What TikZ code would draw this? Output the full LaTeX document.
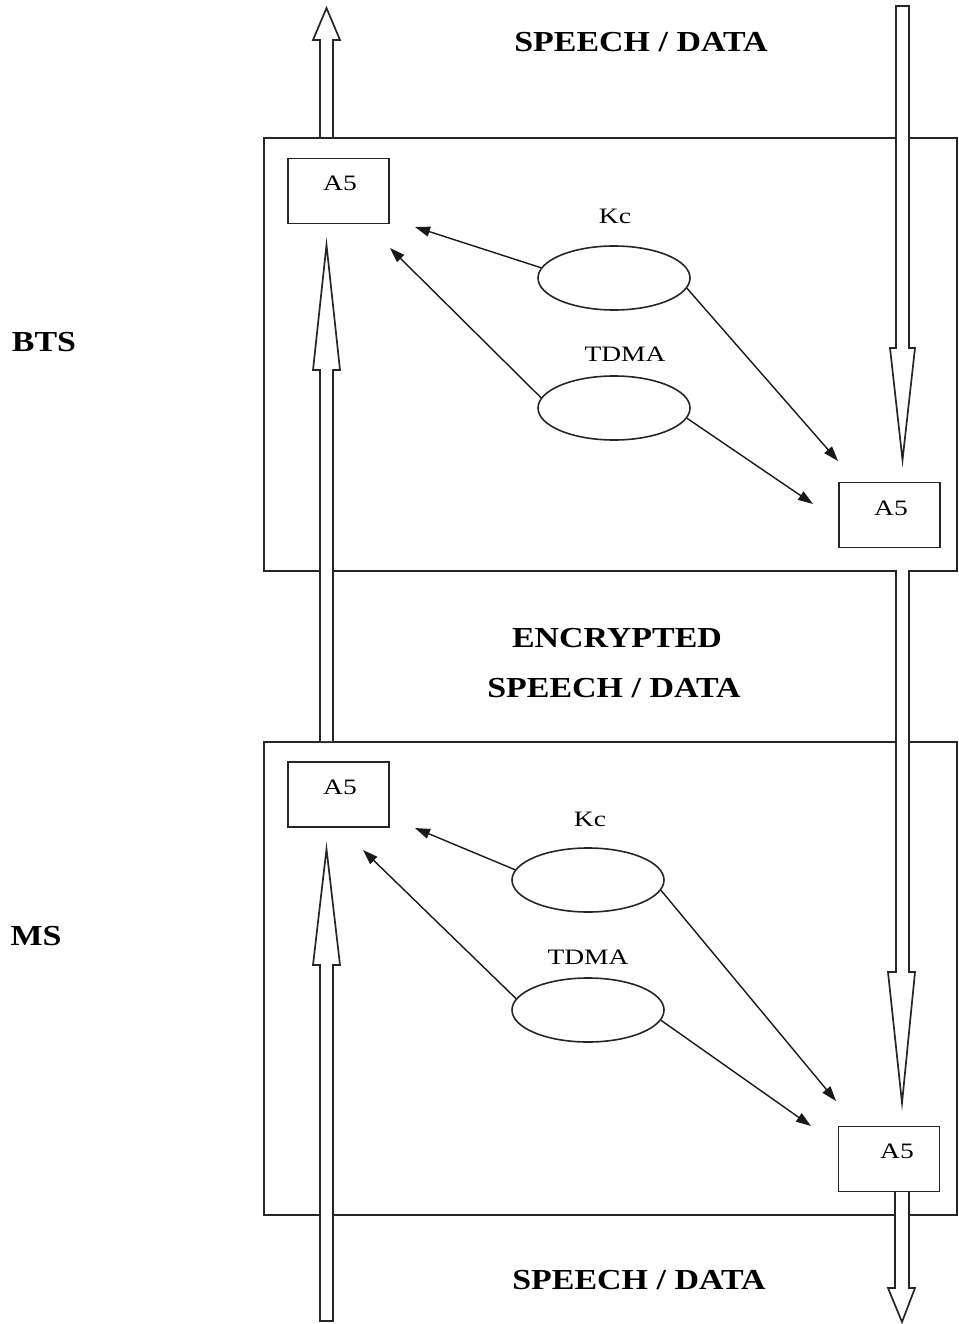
\documentclass[tikz,border=0pt]{standalone}
\usepackage{fontspec}
\setmainfont{Liberation Serif}
\newfontfamily\lblfont{Liberation Serif}[FakeStretch=1.25]
\newfontfamily\bigfont{Liberation Serif}[FakeStretch=1.17]
\usetikzlibrary{arrows.meta,shapes.geometric}
\tikzset{
  zone/.style={draw=black!85, line width=1.6pt},
  a5box/.style={draw=black!85, line width=1.7pt, rectangle, minimum width=101pt, minimum height=65pt, inner sep=0pt, fill=white},
  oval/.style={draw=black!85, line width=1.6pt, ellipse, minimum width=152pt, minimum height=64pt, inner sep=0pt},
  keyarrow/.style={draw=black!90, line width=1.4pt, -{Triangle[length=15pt,width=10pt]}},
  hollow/.style={draw=black!85, line width=1.7pt, line join=miter},
  hollowfill/.style={fill=white},
  biglbl/.style={font=\bigfont\fontsize{29}{34}\selectfont\bfseries, inner sep=0pt},
  lbl/.style={font=\lblfont\fontsize{22}{26}\selectfont, inner sep=0pt},
}
\begin{document}
\begin{tikzpicture}[x=1pt,y=-1pt]
\useasboundingbox (0,0) rectangle (958,1324);
% zones
\node[zone, rectangle, minimum width=693pt, minimum height=433pt, inner sep=0pt, anchor=north west] (bts) at (263,137) {};
\node[zone, rectangle, minimum width=693pt, minimum height=473pt, inner sep=0pt, anchor=north west] (ms) at (263,741) {};
% hollow arrows (left, upward)
\fill[hollowfill] (320,137)--(320,40)--(313,40)--(326.5,8)--(340,40)--(333,40)--(333,137)--cycle;
\draw[hollow] (320,137)--(320,40)--(313,40)--(326.5,8)--(340,40)--(333,40)--(333,137);
\fill[hollowfill] (320,741)--(320,370)--(313,370)--(326.5,245)--(340,370)--(333,370)--(333,741)--cycle;
\draw[hollow] (320,741)--(320,370)--(313,370)--(326.5,245)--(340,370)--(333,370)--(333,741);
\fill[hollowfill] (320,1321)--(320,965)--(313,965)--(326.5,849)--(340,965)--(333,965)--(333,1321)--cycle;
\draw[hollow] (320,1321)--(320,965)--(313,965)--(326.5,849)--(340,965)--(333,965)--(333,1321)--cycle;
% hollow arrows (right, downward)
\fill[hollowfill] (896,6)--(896,348)--(890,348)--(902.5,460)--(915,348)--(909,348)--(909,6)--cycle;
\draw[hollow] (896,6)--(896,348)--(890,348)--(902.5,460)--(915,348)--(909,348)--(909,6)--cycle;
\fill[hollowfill] (896,570)--(896,972)--(888,972)--(902,1103)--(915,972)--(909,972)--(909,570)--cycle;
\draw[hollow] (896,570)--(896,972)--(888,972)--(902,1103)--(915,972)--(909,972)--(909,570);
\fill[hollowfill] (895,1192)--(895,1288)--(888,1288)--(902,1322)--(915,1288)--(909,1288)--(909,1192)--cycle;
\draw[hollow] (895,1192)--(895,1288)--(888,1288)--(902,1322)--(915,1288)--(909,1288)--(909,1192);
% A5 boxes
\node[a5box] (btsA) at (338.5,191) {};
\node[a5box] (btsB) at (889.5,515) {};
\node[a5box] (msA) at (338.5,794.5) {};
\node[a5box] (msB) at (889,1159) {};
\node[lbl] at (340,183) {A5};
\node[lbl] at (891,508) {A5};
\node[lbl] at (340,787) {A5};
\node[lbl] at (897,1151) {A5};
% BTS ovals
\node[oval] (bkc) at (614,278) {};
\node[oval] (btd) at (614,408) {};
\node[lbl] at (615,216) {Kc};
\node[lbl] at (625,354) {TDMA};
\coordinate (bt1) at (415,227);
\coordinate (bt2) at (390,248);
\coordinate (bt3) at (838,461);
\coordinate (bt4) at (813,504);
\draw[keyarrow] (bkc.172) -- (bt1);
\draw[keyarrow] (btd.172) -- (bt2);
\draw[keyarrow] (bkc.352) -- (bt3);
\draw[keyarrow] (btd.352) -- (bt4);
% MS ovals
\node[oval] (mkc) at (588,880) {};
\node[oval] (mtd) at (588,1010) {};
\node[lbl] at (590,819) {Kc};
\node[lbl] at (588,957) {TDMA};
\coordinate (mt1) at (415,828);
\coordinate (mt2) at (363,850);
\coordinate (mt3) at (836,1101);
\coordinate (mt4) at (811,1126);
\draw[keyarrow] (mkc.172) -- (mt1);
\draw[keyarrow] (mtd.171) -- (mt2);
\draw[keyarrow] (mkc.352) -- (mt3);
\draw[keyarrow] (mtd.352) -- (mt4);
% big labels
\node[biglbl] at (641,42) {SPEECH / DATA};
\node[biglbl] at (617,638) {ENCRYPTED};
\node[biglbl] at (614,688) {SPEECH / DATA};
\node[biglbl] at (639,1280) {SPEECH / DATA};
\node[biglbl] at (44,342) {BTS};
\node[biglbl] at (36,936) {MS};
\end{tikzpicture}
\end{document}
